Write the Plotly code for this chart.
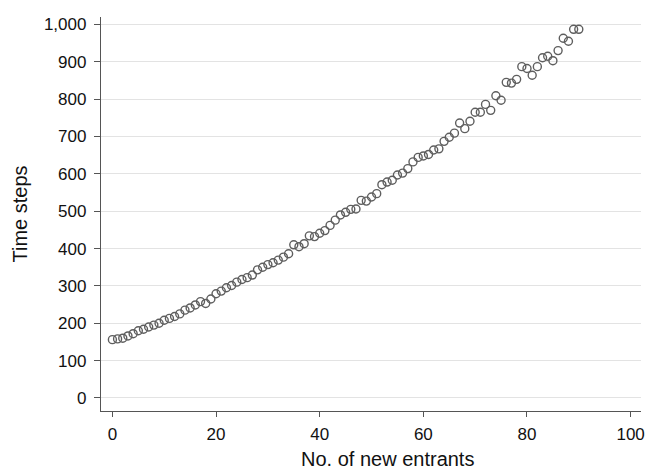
import plotly.graph_objects as go

entrants = list(range(0, 91))
time_steps = [
    156, 158, 160, 166, 172, 180, 184, 190, 195, 200,
    208, 213, 218, 225, 235, 241, 249, 258, 253, 265,
    279, 286, 295, 301, 310, 317, 322, 329, 343, 350,
    357, 362, 369, 377, 386, 410, 405, 413, 434, 432,
    441, 448, 462, 476, 490, 497, 505, 506, 529, 527,
    538, 547, 571, 578, 583, 597, 602, 614, 632, 644,
    648, 652, 664, 667, 687, 698, 709, 736, 721, 741,
    765, 765, 786, 770, 809, 797, 845, 843, 853, 887,
    882, 864, 887, 911, 915, 903, 930, 963, 955, 987,
    987,
]
x_ticks = [0, 20, 40, 60, 80, 100]
y_ticks = list(range(0, 1001, 100))
x_title = "No. of new entrants"
y_title = "Time steps"

fig = go.Figure(
    go.Scatter(
        x=entrants,
        y=time_steps,
        mode="markers",
        marker=dict(symbol="circle-open", size=8, color="#5e5e5e",
                    line=dict(width=1.4, color="#5e5e5e")),
        showlegend=False,
        hoverinfo="skip",
    )
)

fig.update_layout(
    width=660,
    height=470,
    margin=dict(l=101, r=19, t=17, b=59),
    paper_bgcolor="white",
    plot_bgcolor="white",
    font=dict(family="Liberation Sans, Arial, sans-serif", size=17, color="#111"),
    annotations=[
        dict(text=x_title, xref="paper", yref="paper", x=0.53, y=-0.121,
             xanchor="center", yanchor="middle", showarrow=False,
             font=dict(size=20, color="#111")),
    ],
)
fig.update_xaxes(
    range=[-2.2, 102],
    tickvals=x_ticks,
    showgrid=False,
    zeroline=False,
    showline=True,
    linecolor="#555",
    linewidth=1.3,
    ticks="outside",
    ticklen=5,
    tickcolor="#555",
    tickfont=dict(size=17),
    ticklabelstandoff=2,
)
fig.update_yaxes(
    range=[-35, 1020],
    tickvals=y_ticks,
    tickformat=",",
    showgrid=True,
    gridcolor="#e3e3e3",
    gridwidth=1,
    zeroline=False,
    showline=True,
    linecolor="#555",
    linewidth=1.3,
    ticks="outside",
    ticklen=6,
    tickcolor="#555",
    tickfont=dict(size=17),
    ticklabelstandoff=4,
    title=dict(text=y_title, font=dict(size=20), standoff=10),
)

fig.write_html("out.html", config={"displayModeBar": False},
               post_script="document.body.style.margin='0';")
